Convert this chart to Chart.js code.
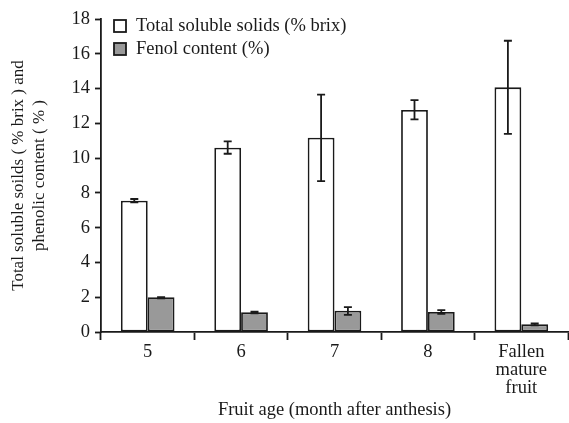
<!DOCTYPE html>
<html>
<head>
<meta charset="utf-8">
<script src="https://cdn.jsdelivr.net/npm/chart.js@4"></script>
<style>
  html, body { margin: 0; padding: 0; background: #fff; }
  #wrap { width: 569px; height: 423px; }
</style>
</head>
<body>
<div id="wrap"><canvas id="chart"></canvas></div>
<script>
const categories = ["5", "6", "7", "8", ["Fallen", "mature", "fruit"]];
const solidsValues = [7.55, 10.6, 11.17, 12.77, 14.07];
const solidsLow = [7.45, 10.25, 8.68, 12.23, 11.39];
const solidsHigh = [7.65, 10.96, 13.65, 13.33, 16.75];
const fenolValues = [2.0, 1.13, 1.22, 1.15, 0.44];
const fenolLow = [1.93, 1.07, 0.98, 1.05, 0.38];
const fenolHigh = [2.0, 1.17, 1.43, 1.26, 0.5];

const FONT = "'Liberation Serif', 'Times New Roman', serif";
const SIZE = 18.5;
const INK = "#1a1a1a";
const LINE = 1.8;

// error bars, drawn through the y scale
const errorBars = {
  id: "errorBars",
  afterDatasetsDraw(chart) {
    const ctx = chart.ctx;
    const y = chart.scales.y;
    chart.data.datasets.forEach((ds, di) => {
      const meta = chart.getDatasetMeta(di);
      meta.data.forEach((bar, i) => {
        const lo = y.getPixelForValue(ds.errLow[i]);
        const hi = y.getPixelForValue(ds.errHigh[i]);
        const cap = 4;
        ctx.save();
        ctx.strokeStyle = INK;
        ctx.lineWidth = LINE;
        ctx.beginPath();
        ctx.moveTo(bar.x, lo);
        ctx.lineTo(bar.x, hi);
        ctx.moveTo(bar.x - cap, lo);
        ctx.lineTo(bar.x + cap, lo);
        ctx.moveTo(bar.x - cap, hi);
        ctx.lineTo(bar.x + cap, hi);
        ctx.stroke();
        ctx.restore();
      });
    });
  },
};

// legend inside the plot, stacked, top-left
const innerLegend = {
  id: "innerLegend",
  afterDraw(chart) {
    const ctx = chart.ctx;
    const area = chart.chartArea;
    let top = area.top + 1;
    chart.data.datasets.forEach((ds) => {
      ctx.save();
      ctx.fillStyle = ds.backgroundColor;
      ctx.strokeStyle = INK;
      ctx.lineWidth = LINE;
      ctx.fillRect(area.left + 13, top, 12, 12);
      ctx.strokeRect(area.left + 13, top, 12, 12);
      ctx.fillStyle = INK;
      ctx.font = SIZE + "px " + FONT;
      ctx.textBaseline = "middle";
      ctx.fillText(ds.label, area.left + 35, top + 6.5);
      ctx.restore();
      top += 23;
    });
  },
};

new Chart(document.getElementById("chart"), {
  type: "bar",
  data: {
    labels: categories,
    datasets: [
      {
        label: "Total soluble solids (% brix)",
        data: solidsValues,
        errLow: solidsLow,
        errHigh: solidsHigh,
        backgroundColor: "#ffffff",
        borderColor: INK,
        borderWidth: LINE,
        borderSkipped: false,
      },
      {
        label: "Fenol content (%)",
        data: fenolValues,
        errLow: fenolLow,
        errHigh: fenolHigh,
        backgroundColor: "#999999",
        borderColor: INK,
        borderWidth: LINE,
        borderSkipped: false,
      },
    ],
  },
  options: {
    responsive: true,
    maintainAspectRatio: false,
    animation: false,
    categoryPercentage: 0.574,
    barPercentage: 1,
    layout: { padding: { top: 19, right: 1, bottom: 0, left: 0 } },
    plugins: {
      legend: { display: false },
      tooltip: { enabled: false },
    },
    scales: {
      x: {
        grid: {
          offset: true,
          drawOnChartArea: false,
          drawTicks: true,
          tickLength: 8,
          tickColor: INK,
          tickWidth: LINE,
        },
        border: { display: true, color: INK, width: LINE },
        ticks: {
          color: INK,
          padding: 3,
          maxRotation: 0,
          font: { family: FONT, size: SIZE, lineHeight: 0.98 },
        },
        title: {
          display: true,
          text: "Fruit age (month after anthesis)",
          color: INK,
          font: { family: FONT, size: SIZE, lineHeight: 1.1 },
          padding: { top: 0, bottom: 3 },
        },
        afterFit(scale) { scale.height = 91; },
      },
      y: {
        min: 0,
        max: 18,
        grid: {
          drawOnChartArea: false,
          drawTicks: true,
          tickLength: 6,
          tickColor: INK,
          tickWidth: LINE,
        },
        border: { display: true, color: INK, width: LINE },
        ticks: {
          stepSize: 2,
          color: INK,
          padding: 5,
          font: { family: FONT, size: SIZE },
        },
        title: {
          display: true,
          text: ["Total soluble soilds ( % brix ) and", "phenolic content ( % )"],
          color: INK,
          font: { family: FONT, size: 17, lineHeight: 1.18 },
          padding: { top: 9, bottom: 0 },
        },
        afterFit(scale) { scale.width = 101; },
      },
    },
  },
  plugins: [errorBars, innerLegend],
});
</script>
</body>
</html>
